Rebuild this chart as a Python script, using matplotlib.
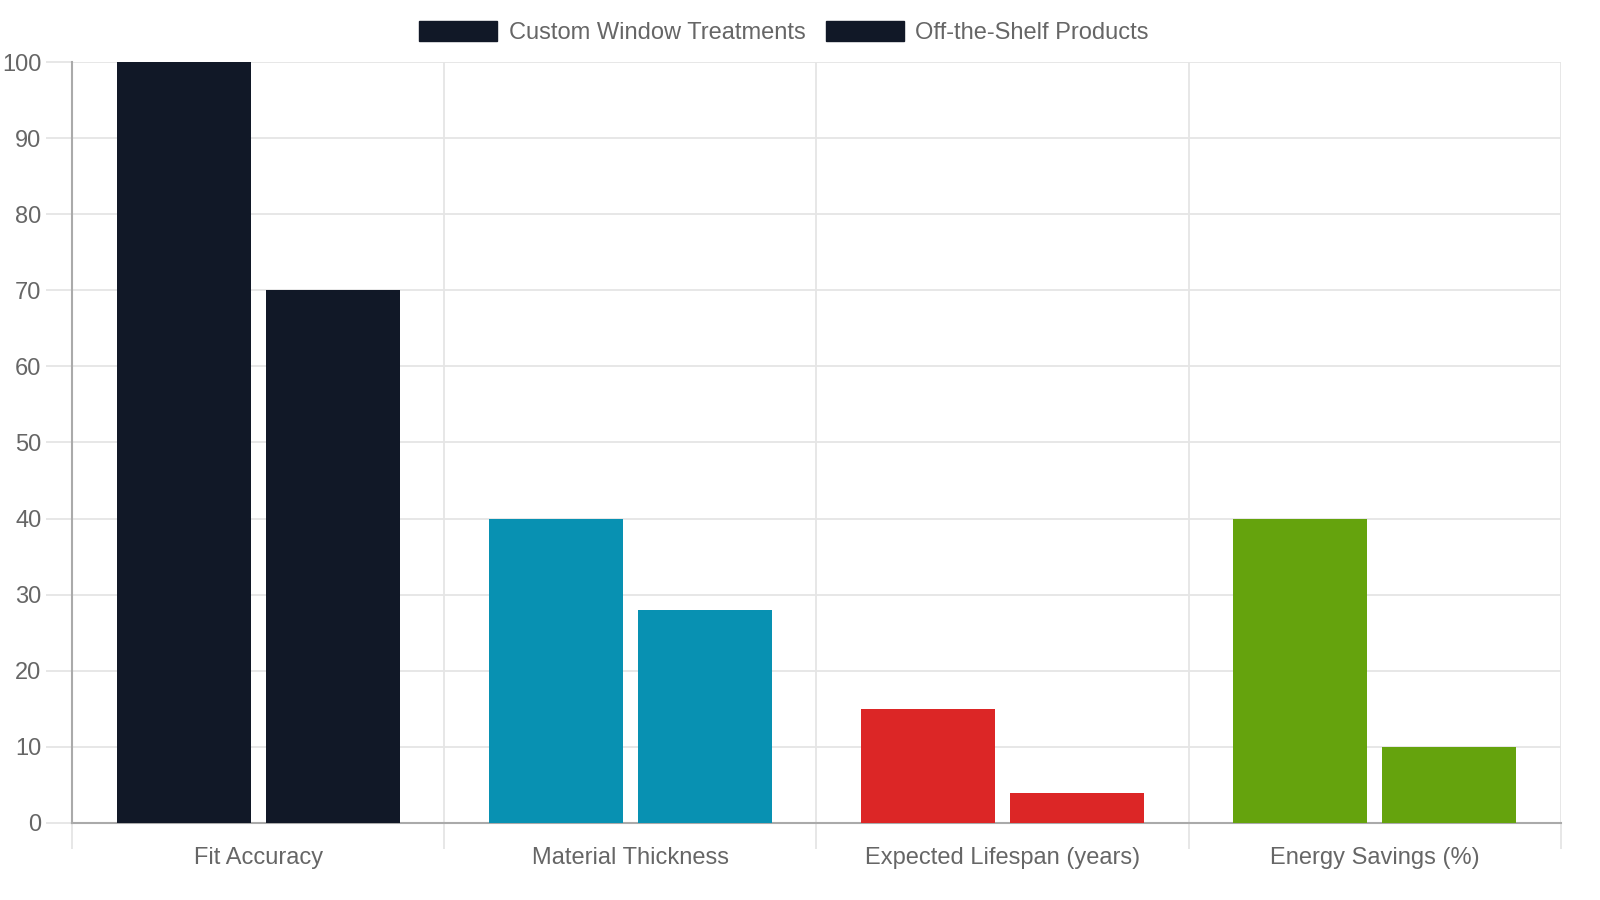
import matplotlib.pyplot as plt
import numpy as np

plt.rcParams['font.family'] = ['Liberation Sans', 'DejaVu Sans']

categories = ['Fit Accuracy', 'Material Thickness', 'Expected Lifespan (years)', 'Energy Savings (%)']
custom = [100, 40, 15, 40]
off_shelf = [70, 28, 4, 10]
series_names = ['Custom Window Treatments', 'Off-the-Shelf Products']
colors = ['#111827', '#0891b2', '#dc2626', '#65a30d']

x = np.arange(len(categories))
width = 0.36

fig = plt.figure(figsize=(16, 9), dpi=100)
ax = fig.add_axes([0.045, 0.0856, 0.9306, 0.8455])

b1 = ax.bar(x - 0.2, custom, width, color=colors, label=series_names[0], zorder=3)
b2 = ax.bar(x + 0.2, off_shelf, width, color=colors, label=series_names[1], zorder=3)

ax.set_xlim(-0.5, len(categories) - 0.5)
ax.set_ylim(0, 100)
ax.set_yticks(np.arange(0, 101, 10))
ax.set_xticks(x)
ax.set_xticklabels(categories)
ax.set_xticks(np.arange(-0.5, len(categories), 1), minor=True)

ax.grid(axis='y', color='#e5e5e5', linewidth=1.3, zorder=0)
ax.grid(axis='x', which='minor', color='#e5e5e5', linewidth=1.3, zorder=0)
ax.tick_params(axis='x', which='major', length=0, pad=17, labelsize=17, labelcolor='#666666')
ax.tick_params(axis='x', which='minor', length=19, width=1.3, color='#e5e5e5')
ax.tick_params(axis='y', length=19, width=1.3, color='#e5e5e5', pad=3, labelsize=17, labelcolor='#666666')

for side in ['top', 'right']:
    ax.spines[side].set_visible(False)
for side in ['left', 'bottom']:
    ax.spines[side].set_color('#aaaaaa')
    ax.spines[side].set_linewidth(1.5)

handles = [plt.Rectangle((0, 0), 1, 1, color=colors[0]), plt.Rectangle((0, 0), 1, 1, color=colors[0])]
fig.legend(handles, series_names, loc='center', bbox_to_anchor=(0.49, 0.964), ncol=2, frameon=False,
           fontsize=17, labelcolor='#666666', handlelength=3.3, handleheight=0.93,
           handletextpad=0.5, columnspacing=0.85)

plt.savefig('out.png', dpi=100)
